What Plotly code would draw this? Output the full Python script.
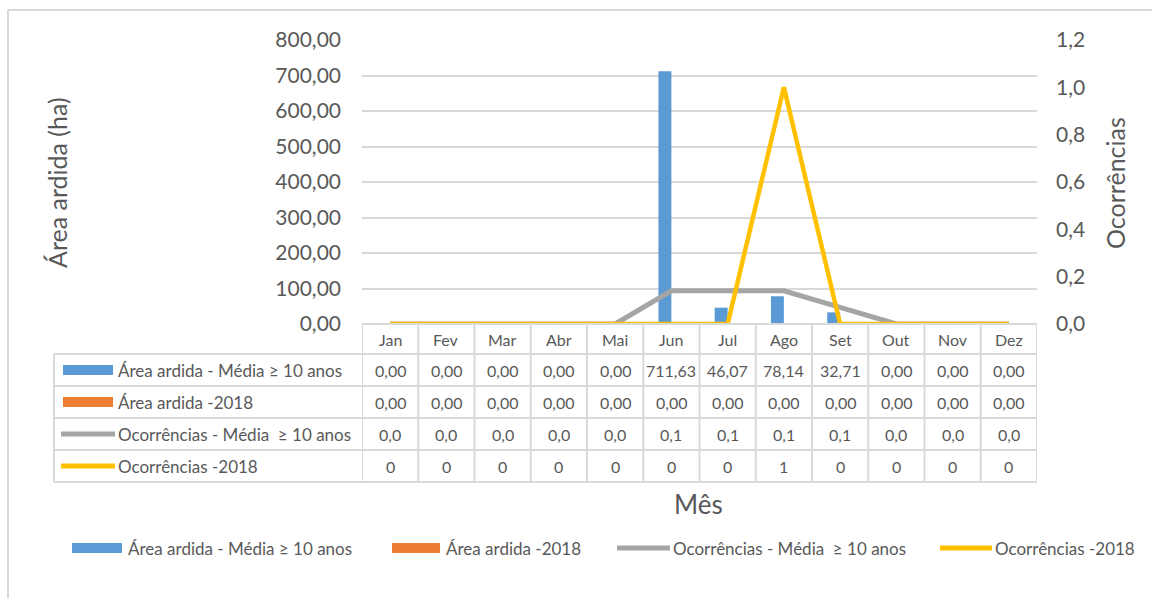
import plotly.graph_objects as go

# Monthly data: burned area (ha) and number of occurrences
meses = ["Jan", "Fev", "Mar", "Abr", "Mai", "Jun", "Jul", "Ago", "Set", "Out", "Nov", "Dez"]
area_media = [0.00, 0.00, 0.00, 0.00, 0.00, 711.63, 46.07, 78.14, 32.71, 0.00, 0.00, 0.00]
area_2018 = [0.00] * 12
ocorr_media = [0.0, 0.0, 0.0, 0.0, 0.0, 0.14, 0.14, 0.14, 0.07, 0.0, 0.0, 0.0]
ocorr_2018 = [0, 0, 0, 0, 0, 0, 0, 1, 0, 0, 0, 0]

series_names = [
    "Área ardida - Média ≥ 10 anos",
    "Área ardida -2018",
    "Ocorrências - Média  ≥ 10 anos",
    "Ocorrências -2018",
]
colors = ["#5B9BD5", "#ED7D31", "#A5A5A5", "#FFC000"]

W, H = 1152, 598
FONT = "Lato"
TXT = "#595959"
GRID = "#D9D9D9"

# plot area in pixels
PX0, PX1 = 362, 1037
PY_TOP, PY_BOT = 40, 324


def px(x):
    return x / W


def py(y):
    return 1 - y / H


def fmt(v, d):
    return f"{v:.{d}f}".replace(".", ",")


fig = go.Figure()
fig.add_trace(go.Bar(x=meses, y=area_media, name=series_names[0],
                     marker_color=colors[0], yaxis="y"))
fig.add_trace(go.Bar(x=meses, y=area_2018, name=series_names[1],
                     marker_color=colors[1], yaxis="y"))
fig.add_trace(go.Scatter(x=meses, y=ocorr_media, name=series_names[2], mode="lines",
                         line=dict(color=colors[2], width=5), yaxis="y2"))
fig.add_trace(go.Scatter(x=meses, y=ocorr_2018, name=series_names[3], mode="lines",
                         line=dict(color=colors[3], width=4.5), yaxis="y2"))

shapes = []
annotations = []

# table rows (pixel y of borders)
row_y = [324, 354, 386, 418, 450, 482]
LBL_X0 = 54

# horizontal borders
shapes.append(dict(type="line", xref="paper", yref="paper",
                   x0=px(PX0), x1=px(PX1), y0=py(row_y[0]), y1=py(row_y[0]),
                   line=dict(color=GRID, width=2)))
for yy in row_y[1:]:
    shapes.append(dict(type="line", xref="paper", yref="paper",
                       x0=px(LBL_X0), x1=px(PX1), y0=py(yy), y1=py(yy),
                       line=dict(color=GRID, width=2)))
# vertical borders
shapes.append(dict(type="line", xref="paper", yref="paper",
                   x0=px(LBL_X0), x1=px(LBL_X0), y0=py(row_y[1]), y1=py(row_y[-1]),
                   line=dict(color=GRID, width=2)))
for i in range(len(meses) + 1):
    shapes.append(dict(type="line", xref="x", yref="paper",
                       x0=i - 0.5, x1=i - 0.5, y0=py(row_y[0]), y1=py(row_y[-1]),
                       line=dict(color=GRID, width=2)))

# month header row and value rows
rows = [
    meses,
    [fmt(v, 2) for v in area_media],
    [fmt(v, 2) for v in area_2018],
    [fmt(v, 1) for v in ocorr_media],
    [str(v) for v in ocorr_2018],
]
for r, vals in enumerate(rows):
    yc = (row_y[r] + row_y[r + 1]) / 2
    for i, t in enumerate(vals):
        annotations.append(dict(x=i, y=py(yc), xref="x", yref="paper", text=t,
                                showarrow=False, xanchor="center", yanchor="middle",
                                font=dict(family=FONT, size=16, color=TXT)))

# series keys inside the table
for k in range(4):
    yc = (row_y[k + 1] + row_y[k + 2]) / 2
    if k < 2:
        shapes.append(dict(type="rect", xref="paper", yref="paper",
                           x0=px(63), x1=px(113), y0=py(yc - 5), y1=py(yc + 5),
                           fillcolor=colors[k], line=dict(width=0)))
    else:
        shapes.append(dict(type="line", xref="paper", yref="paper",
                           x0=px(61), x1=px(115), y0=py(yc), y1=py(yc),
                           line=dict(color=colors[k], width=5)))
    annotations.append(dict(x=px(116), y=py(yc), xref="paper", yref="paper",
                            text=series_names[k], showarrow=False,
                            xanchor="left", yanchor="middle",
                            font=dict(family=FONT, size=17, color=TXT)))

# bottom legend
leg_y = 548
leg_items = [(72, 122, 126), (392, 440, 444), (617, 670, 671), (940, 992, 993)]
for k, (s0, s1, tx) in enumerate(leg_items):
    if k < 2:
        shapes.append(dict(type="rect", xref="paper", yref="paper",
                           x0=px(s0), x1=px(s1), y0=py(leg_y - 5), y1=py(leg_y + 5),
                           fillcolor=colors[k], line=dict(width=0)))
    else:
        shapes.append(dict(type="line", xref="paper", yref="paper",
                           x0=px(s0), x1=px(s1), y0=py(leg_y), y1=py(leg_y),
                           line=dict(color=colors[k], width=5)))
    annotations.append(dict(x=px(tx), y=py(leg_y), xref="paper", yref="paper",
                            text=series_names[k], showarrow=False,
                            xanchor="left", yanchor="middle",
                            font=dict(family=FONT, size=17, color=TXT)))

# axis titles
annotations.append(dict(x=px(57), y=py(183), xref="paper", yref="paper",
                        text="Área ardida (ha)", textangle=-90, showarrow=False,
                        xanchor="center", yanchor="middle",
                        font=dict(family=FONT, size=25, color=TXT)))
annotations.append(dict(x=px(1115), y=py(183), xref="paper", yref="paper",
                        text="Ocorrências", textangle=-90, showarrow=False,
                        xanchor="center", yanchor="middle",
                        font=dict(family=FONT, size=25, color=TXT)))
annotations.append(dict(x=px(698), y=py(504), xref="paper", yref="paper",
                        text="Mês", showarrow=False,
                        xanchor="center", yanchor="middle",
                        font=dict(family=FONT, size=26, color=TXT)))

# chart frame (left and top edges)
shapes.append(dict(type="line", xref="paper", yref="paper",
                   x0=px(8), x1=px(8), y0=py(10), y1=0,
                   line=dict(color=GRID, width=2)))
shapes.append(dict(type="line", xref="paper", yref="paper",
                   x0=px(8), x1=1, y0=py(10), y1=py(10),
                   line=dict(color=GRID, width=2)))

fig.update_layout(
    template="none",
    width=W, height=H, autosize=False,
    margin=dict(l=0, r=0, t=0, b=0, pad=0, autoexpand=False),
    paper_bgcolor="white", plot_bgcolor="white",
    separators=",.",
    barmode="group", bargap=0.54, bargroupgap=0,
    showlegend=False,
    font=dict(family=FONT, color=TXT),
    xaxis=dict(domain=[px(PX0), px(PX1)], range=[-0.5, 11.5], automargin=False,
               showticklabels=False, showgrid=False, zeroline=False, showline=False,
               ticks=""),
    yaxis=dict(domain=[py(PY_BOT), py(PY_TOP)], range=[0, 800], dtick=100,
               automargin=False,
               tickformat=".2f", showgrid=True, gridcolor=GRID, gridwidth=2,
               zeroline=False, showline=False, ticks="",
               ticklabelstandoff=20,
               tickfont=dict(family=FONT, size=21, color=TXT)),
    yaxis2=dict(overlaying="y", side="right", range=[0, 1.2], dtick=0.2,
                automargin=False,
                tickformat=".1f", showgrid=False, zeroline=False, showline=False,
                ticks="", ticklabelstandoff=18,
                tickfont=dict(family=FONT, size=21, color=TXT)),
    shapes=shapes,
    annotations=annotations,
)

fig.write_html("out.html")
